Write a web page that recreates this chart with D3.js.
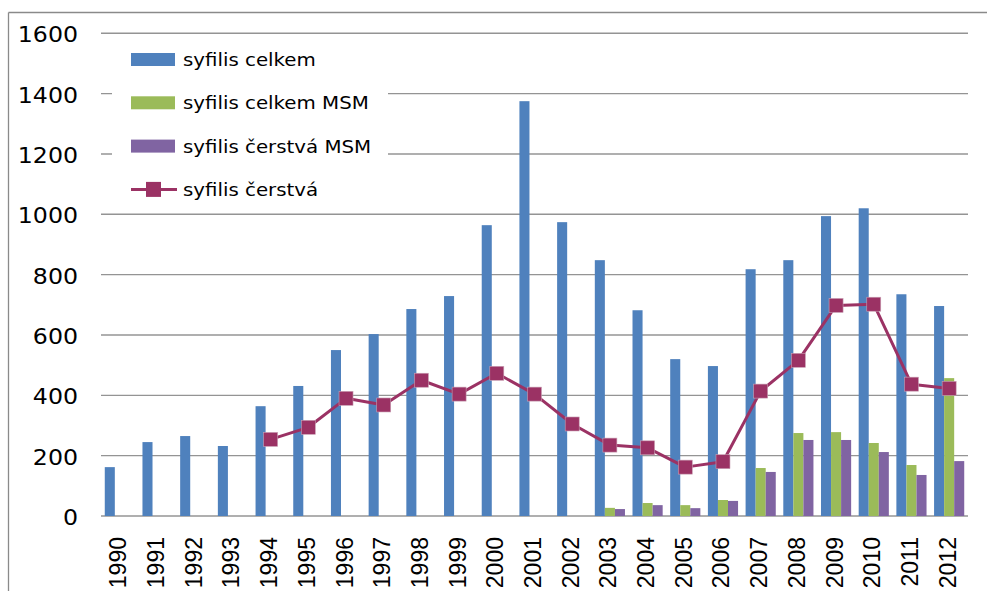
<!DOCTYPE html>
<html>
<head>
<meta charset="utf-8">
<script src="https://cdn.jsdelivr.net/npm/d3@7"></script>
<style>
  html, body { margin: 0; padding: 0; background: #fff; }
  svg { display: block; }
</style>
</head>
<body>
<svg id="chart" width="987" height="591"></svg>
<script>
// Syphilis cases in the Czech Republic, 1990–2012
const years = ["1990","1991","1992","1993","1994","1995","1996","1997","1998","1999","2000","2001","2002","2003","2004","2005","2006","2007","2008","2009","2010","2011","2012"];
const syfilisCelkem    = [162, 245, 265, 232, 364, 431, 550, 603, 686, 729, 964, 1375, 974, 848, 682, 520, 497, 818, 848, 994, 1020, 735, 696];
const syfilisCelkemMSM = [null, null, null, null, null, null, null, null, null, null, null, null, null, 27, 43, 36, 53, 159, 275, 278, 242, 169, 457];
const syfilisCerstvaMSM = [null, null, null, null, null, null, null, null, null, null, null, null, null, 23, 36, 26, 50, 146, 252, 252, 212, 136, 182];
const syfilisCerstva   = [null, null, null, null, 254, 294, 390, 368, 450, 404, 473, 404, 305, 235, 226, 162, 180, 414, 516, 698, 702, 437, 423];
const yTicks = [0, 200, 400, 600, 800, 1000, 1200, 1400, 1600];

const barSeries = [
  { name: "syfilis celkem", values: syfilisCelkem, color: "#4f81bd" },
  { name: "syfilis celkem MSM", values: syfilisCelkemMSM, color: "#9bbb59" },
  { name: "syfilis čerstvá MSM", values: syfilisCerstvaMSM, color: "#8064a2" }
];
const lineSeries = { name: "syfilis čerstvá", values: syfilisCerstva, color: "#9b3264" };

const svg = d3.select("#chart");
const plot = { left: 101, right: 968, top: 33.3, bottom: 516 };

const x0 = d3.scaleBand().domain(years).range([plot.left, plot.right]).paddingInner(0.2).paddingOuter(0.1);
const x1 = d3.scaleBand().domain(barSeries.map(s => s.name)).range([0, x0.bandwidth()]);
const y = d3.scaleLinear().domain([0, 1600]).range([plot.bottom, plot.top]);

// outer frame (top and left edges)
svg.append("line").attr("x1", 8.5).attr("x2", 987).attr("y1", 12.5).attr("y2", 12.5)
  .attr("stroke", "#8a8a8a").attr("stroke-width", 1.3);
svg.append("line").attr("x1", 8.5).attr("x2", 8.5).attr("y1", 12.5).attr("y2", 591)
  .attr("stroke", "#8a8a8a").attr("stroke-width", 1.3);

// horizontal gridlines
svg.append("g").selectAll("line").data(yTicks).join("line")
  .attr("x1", plot.left).attr("x2", plot.right)
  .attr("y1", d => y(d)).attr("y2", d => y(d))
  .attr("stroke", "#949494").attr("stroke-width", 1.4);

// y axis labels
svg.append("g").selectAll("text").data(yTicks).join("text")
  .attr("transform", d => `translate(78,${y(d) + 1.5}) scale(1.1,1)`)
  .attr("text-anchor", "end").attr("dominant-baseline", "central")
  .attr("font-family", "DejaVu Sans").attr("font-size", 21.5).attr("fill", "#000")
  .text(d => d);

// x axis labels, rotated
svg.append("g").selectAll("text").data(years).join("text")
  .attr("transform", d => `translate(${x0(d) + x0.bandwidth() / 2 - 1.5},537) rotate(-90)`)
  .attr("text-anchor", "end").attr("dominant-baseline", "central")
  .attr("font-family", "Liberation Sans").attr("font-size", 23).attr("fill", "#000")
  .text(d => d);

// legend background covers the gridlines behind it
svg.append("rect").attr("x", 112).attr("y", 38).attr("width", 276).attr("height", 172).attr("fill", "#fff");

// grouped bars
const groups = svg.append("g").selectAll("g").data(years).join("g")
  .attr("transform", d => `translate(${x0(d)},0)`);
groups.selectAll("rect")
  .data((d, i) => barSeries.map(s => ({ key: s.name, value: s.values[i], color: s.color })).filter(e => e.value != null))
  .join("rect")
  .attr("x", d => x1(d.key))
  .attr("width", x1.bandwidth())
  .attr("y", d => y(d.value))
  .attr("height", d => y(0) - y(d.value))
  .attr("fill", d => d.color);

// line series with square markers
const pts = years.map((yr, i) => ({ yr, v: lineSeries.values[i] })).filter(p => p.v != null);
const line = d3.line().x(p => x0(p.yr) + x0.bandwidth() / 2).y(p => y(p.v));
svg.append("path").datum(pts).attr("d", line)
  .attr("fill", "none").attr("stroke", lineSeries.color).attr("stroke-width", 3).attr("stroke-linejoin", "round");
const ms = 14;
svg.append("g").selectAll("rect").data(pts).join("rect")
  .attr("x", p => x0(p.yr) + x0.bandwidth() / 2 - ms / 2)
  .attr("y", p => y(p.v) - ms / 2)
  .attr("width", ms).attr("height", ms)
  .attr("fill", lineSeries.color).attr("stroke", "#c9a0b4").attr("stroke-width", 0.6);

// legend
const legendRows = [...barSeries.map(s => ({ name: s.name, color: s.color, kind: "bar" })),
  { name: lineSeries.name, color: lineSeries.color, kind: "line" }];
const lg = svg.append("g").selectAll("g").data(legendRows).join("g")
  .attr("transform", (d, i) => `translate(131,${59.5 + i * 43.3})`);
lg.filter(d => d.kind === "bar").append("rect")
  .attr("x", 0).attr("y", -6.5).attr("width", 44).attr("height", 13).attr("fill", d => d.color);
lg.filter(d => d.kind === "line").append("line")
  .attr("x1", 0).attr("x2", 46).attr("y1", 0).attr("y2", 0)
  .attr("stroke", d => d.color).attr("stroke-width", 3);
lg.filter(d => d.kind === "line").append("rect")
  .attr("x", 15).attr("y", -7.5).attr("width", 15).attr("height", 15).attr("fill", d => d.color);
lg.append("text")
  .attr("transform", "translate(52,0) scale(1.1,1)")
  .attr("dominant-baseline", "central")
  .attr("font-family", "DejaVu Sans").attr("font-size", 18).attr("fill", "#000")
  .text(d => d.name);
</script>
</body>
</html>
